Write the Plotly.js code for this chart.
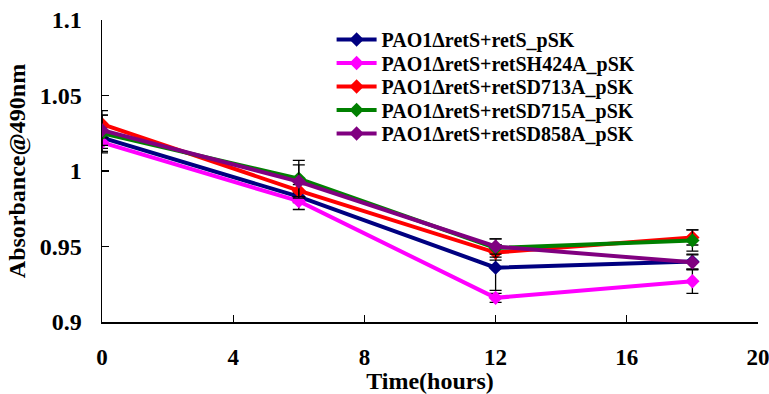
<!DOCTYPE html>
<html>
<head>
<meta charset="utf-8">
<script src="https://cdn.plot.ly/plotly-3.0.1.min.js"></script>
<style>html,body{margin:0;padding:0;background:#fff;}#chart{width:769px;height:394px;}</style>
</head>
<body>
<div id="chart"></div>
<script>
var times = [0, 6, 12, 18];
var seriesNames = [
  'PAO1\u0394retS+retS_pSK',
  'PAO1\u0394retS+retSH424A_pSK',
  'PAO1\u0394retS+retSD713A_pSK',
  'PAO1\u0394retS+retSD715A_pSK',
  'PAO1\u0394retS+retSD858A_pSK'
];
var retS      = [1.022, 0.983, 0.936, 0.940];
var retSH424A = [1.019, 0.980, 0.916, 0.927];
var retSD713A = [1.031, 0.987, 0.946, 0.956];
var retSD715A = [1.025, 0.995, 0.949, 0.954];
var retSD858A = [1.027, 0.993, 0.950, 0.9395];
var errRetS      = [0.007, 0.004, 0.015, 0.005];
var errRetSH424A = [0.007, 0.0055, 0.003, 0.008];
var errRetSD713A = [0.009, 0.004, 0.005, 0.005];
var errRetSD715A = [0.012, 0.012, 0.006, 0.007];
var errRetSD858A = [0.010, 0.011, 0.005, 0.005];
var colors = ['#000080', '#FF00FF', '#FF0000', '#008000', '#800080'];

var values = [retS, retSH424A, retSD713A, retSD715A, retSD858A];
var errors = [errRetS, errRetSH424A, errRetSD713A, errRetSD715A, errRetSD858A];

var FONT = 'Liberation Serif';

var traces = values.map(function (v, i) {
  return {
    x: times, y: v, name: seriesNames[i], type: 'scatter', mode: 'lines+markers',
    line: {color: colors[i], width: 4},
    marker: {symbol: 'diamond', size: 11, color: colors[i]},
    error_y: {type: 'data', array: errors[i], visible: true, color: '#000', thickness: 1.3, width: 6}
  };
});

var layout = {
  width: 769, height: 394,
  margin: {l: 102, r: 11, t: 20, b: 72},
  paper_bgcolor: '#fff', plot_bgcolor: '#fff',
  showlegend: true,
  legend: {
    x: 0.35, xanchor: 'left', y: 1.0, yanchor: 'top',
    bgcolor: 'rgba(0,0,0,0)', borderwidth: 0, itemwidth: 40,
    font: {family: FONT, size: 20, color: '#000', weight: 'bold'}
  },
  xaxis: {
    range: [0, 20], dtick: 4, tick0: 0, showgrid: false, zeroline: false,
    showline: true, linecolor: '#000', linewidth: 1.5,
    ticks: 'inside', ticklen: 7, tickwidth: 1.2, tickcolor: '#000',
    ticklabelstandoff: 14, ticklabeloverflow: 'allow',
    tickfont: {family: FONT, size: 23, color: '#000', weight: 'bold'},
    title: {text: 'Time(hours)', standoff: 3, font: {family: FONT, size: 24, color: '#000', weight: 'bold'}}
  },
  yaxis: {
    range: [0.9, 1.1], dtick: 0.05, tick0: 0.9, showgrid: false, zeroline: false,
    showline: true, linecolor: '#000', linewidth: 1.5,
    ticks: 'inside', ticklen: 7, tickwidth: 1.2, tickcolor: '#000',
    ticklabelstandoff: 14,
    tickfont: {family: FONT, size: 24, color: '#000', weight: 'bold'},
    title: {text: 'Absorbance@490nm', standoff: 7, font: {family: FONT, size: 24, color: '#000', weight: 'bold'}}
  }
};

Plotly.newPlot('chart', traces, layout, {staticPlot: true, displayModeBar: false}).then(function (gd) {
  var items = gd.querySelectorAll('.legend .traces');
  var spacing = 23.5;
  var first = null;
  items.forEach(function (el, i) {
    var t = el.getAttribute('transform') || '';
    var m = t.match(/translate\(([-\d.]+)[ ,]+([-\d.]+)\)/);
    if (!m) return;
    if (first === null) first = parseFloat(m[2]);
    el.setAttribute('transform', 'translate(' + m[1] + ',' + (first + i * spacing) + ')');
  });
});
</script>
</body>
</html>
